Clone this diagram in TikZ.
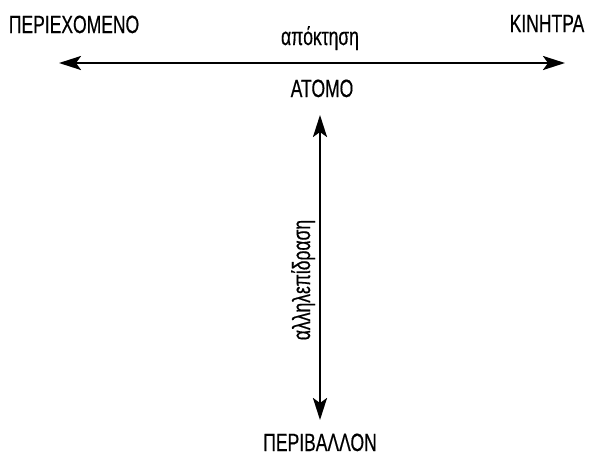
\documentclass[tikz,border=0pt]{standalone}
\usepackage{fontspec}
\setmainfont{Liberation Sans}[FakeStretch=0.7, FakeBold=0.4]
\usetikzlibrary{arrows.meta, positioning}

\begin{document}
\begin{tikzpicture}[
    x=1pt, y=-1pt,
    label/.style={
        inner sep=0pt,
        anchor=base,
        font=\fontsize{25}{30}\selectfont
    },
    arrow/.style={{Stealth[length=22pt,width=14pt,inset=5pt]}-{Stealth[length=22pt,width=14pt,inset=5pt]}, line width=2.5pt}
]
\useasboundingbox (0,0) rectangle (590,456);

\node[label] (content) at (74,33) {ΠΕΡΙΕΧΟΜΕΝΟ};
\node[label] (motive) at (547,32) {ΚΙΝΗΤΡΑ};
\node[label] (atom) at (322,97) {ΑΤΟΜΟ};
\node[label] (environment) at (320,451) {ΠΕΡΙΒΑΛΛΟΝ};

\coordinate (acqL) at (59,63);
\coordinate (acqR) at (565,63);
\coordinate (intT) at (320,115);
\coordinate (intB) at (320,420);

\draw[arrow] (acqL) -- (acqR);
\draw[arrow] (intT) -- (intB);

\node[label] (acquisition) at (320,45) {απόκτηση};
\node[label, rotate=90] (interaction) at (310,280) {αλληλεπίδραση};
\end{tikzpicture}
\end{document}
